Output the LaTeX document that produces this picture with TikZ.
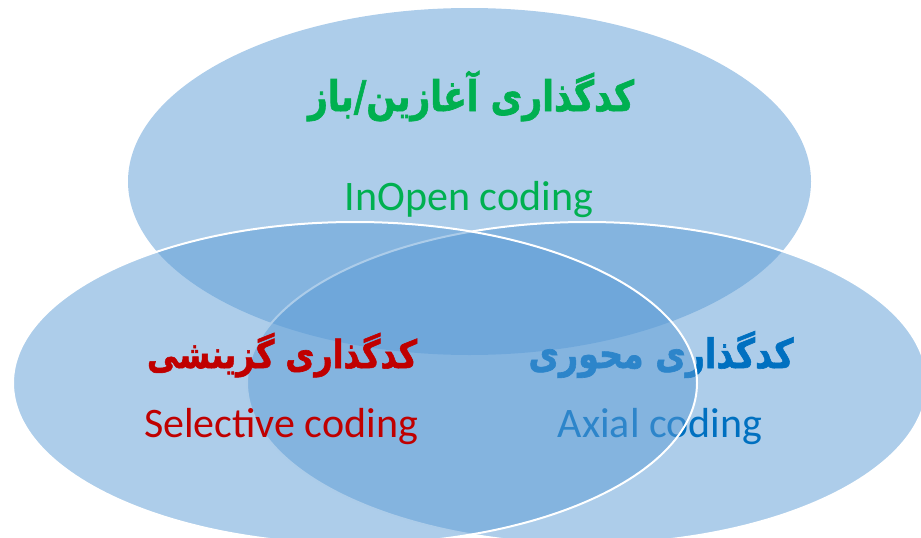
\documentclass[tikz,border=0pt]{standalone}
\usepackage{fontspec}
\usepackage{graphicx}
\setmainfont{Carlito}
\newfontfamily\arabicheavy[Script=Arabic,FakeBold=1.6]{DejaVu Sans Bold}
\TeXXeTstate=1
\newcommand\fatxt[2]{\scalebox{1}[1.22]{\resizebox{#1}{!}{\arabicheavy #2}}}
\definecolor{vennblue}{HTML}{5B9BD5}
\definecolor{vgreen}{HTML}{00B050}
\definecolor{vred}{HTML}{C00000}
\definecolor{vblue}{HTML}{0070C0}
\begin{document}
\begin{tikzpicture}[x=1pt,y=1pt,
  venn/.style={fill=vennblue, fill opacity=0.5},
  rim/.style={draw=white, line width=2pt, draw opacity=1},
  fa/.style={font=\fontsize{30}{36}\selectfont, anchor=base, inner sep=0pt},
  en/.style={font=\fontsize{42}{50}\selectfont, anchor=base, inner sep=0pt}]
\useasboundingbox (0,0) rectangle (921,-538);
% top ellipse
\path[venn] (469.5,-181.5) ellipse [x radius=341.5, y radius=173.5];
\node[fa, text=vgreen] (topfa) at (471,-111) {\fatxt{326pt}{\beginR کدگذاری آغازین/باز\endR}};
\node[en, text=vgreen] (topen) at (469,-210) {InOpen coding};
% right ellipse
\path[venn, rim] (587,-383) ellipse [x radius=340, y radius=161];
\node[fa, text=vblue] (rightfa) at (661,-368) {\fatxt{265pt}{\beginR کدگذاری محوری\endR}};
\node[en, text=vblue] (righten) at (660,-437) {Axial coding};
% left ellipse
\path[venn, rim] (355,-383) ellipse [x radius=342, y radius=161];
\node[fa, text=vred] (leftfa) at (282,-368) {\fatxt{270pt}{\beginR کدگذاری گزینشی\endR}};
\node[en, text=vred] (leften) at (281,-437) {Selective coding};
\end{tikzpicture}
\end{document}
